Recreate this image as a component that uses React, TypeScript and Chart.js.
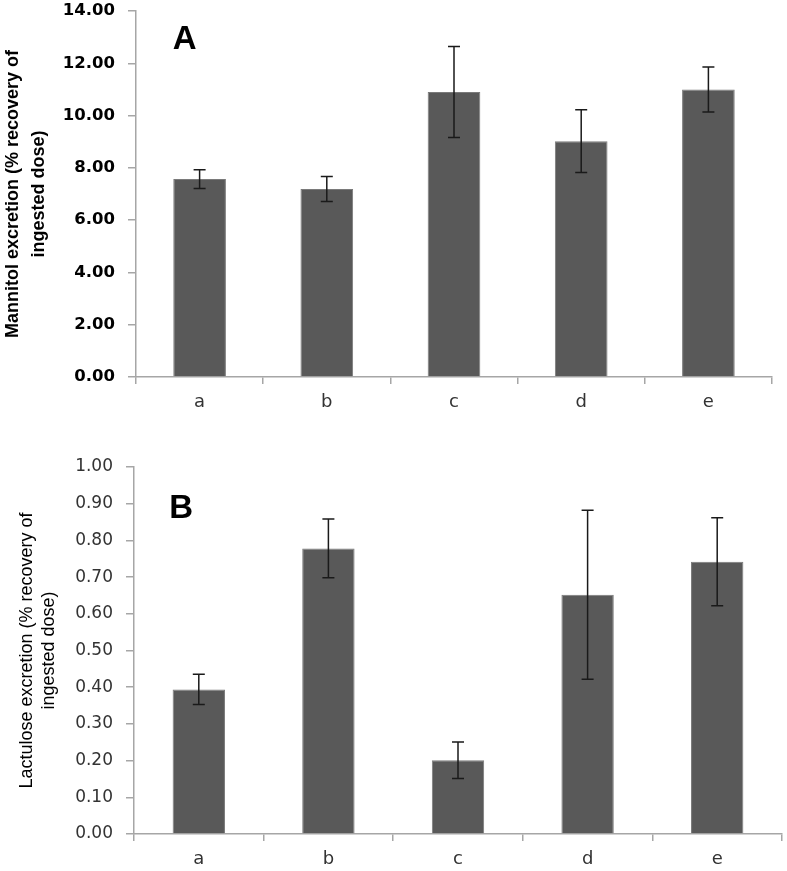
import React, { useEffect, useRef } from "react";
import { Chart, registerables } from "chart.js";

Chart.register(...registerables);

// ---------- data ----------
const categories = ["a", "b", "c", "d", "e"];

const mannitolMeans = [7.57, 7.19, 10.9, 9.02, 11.0];
const mannitolErrors = [0.36, 0.48, 1.74, 1.2, 0.86];
const mannitolTickMax = 14;
const mannitolTickStep = 2;
const mannitolTitle = ["Mannitol excretion (% recovery of", "ingested dose)"];
const mannitolPanel = "A";

const lactuloseMeans = [0.394, 0.778, 0.201, 0.652, 0.742];
const lactuloseErrors = [0.041, 0.08, 0.05, 0.23, 0.12];
const lactuloseTickMax = 1;
const lactuloseTickStep = 0.1;
const lactuloseTitle = ["Lactulose excretion (% recovery of", "ingested dose)"];
const lactulosePanel = "B";

// ---------- styling ----------
const BAR_FILL = "#595959";
const BAR_EDGE = "#7a7a7a";
const AXIS_GREY = "#a6a6a6";
const ERR_COLOR = "#1a1a1a";

type PanelSpec = {
  width: number;
  height: number;
  means: number[];
  errors: number[];
  max: number;
  step: number;
  title: string[];
  panel: string;
  bold: boolean;
  padTop: number;
  padRight: number;
  yWidth: number;
  xHeight: number;
  barPct: number;
  titleLineHeight: number;
  titlePad: number;
  letterDx: number;
  letterDy: number;
  tickColor: string;
};

function makeChart(canvas: HTMLCanvasElement, s: PanelSpec) {
  const errorBars = {
    id: "errorBars",
    afterDatasetsDraw(chart: any) {
      const ctx = chart.ctx;
      const meta = chart.getDatasetMeta(0);
      const yScale = chart.scales.y;
      ctx.save();
      ctx.strokeStyle = ERR_COLOR;
      ctx.lineWidth = 1.5;
      meta.data.forEach((bar: any, i: number) => {
        const v = s.means[i];
        const e = s.errors[i];
        const yTop = yScale.getPixelForValue(v + e);
        const yBot = yScale.getPixelForValue(v - e);
        const x = bar.x;
        const cap = 6;
        ctx.beginPath();
        ctx.moveTo(x, yTop);
        ctx.lineTo(x, yBot);
        ctx.moveTo(x - cap, yTop);
        ctx.lineTo(x + cap, yTop);
        ctx.moveTo(x - cap, yBot);
        ctx.lineTo(x + cap, yBot);
        ctx.stroke();
      });
      ctx.restore();
    },
  };

  const panelLetter = {
    id: "panelLetter",
    afterDraw(chart: any) {
      const ctx = chart.ctx;
      const a = chart.chartArea;
      ctx.save();
      ctx.fillStyle = "#000";
      ctx.font = "bold 33px 'Liberation Sans', Arial, sans-serif";
      ctx.textAlign = "left";
      ctx.textBaseline = "alphabetic";
      ctx.fillText(s.panel, a.left + s.letterDx, a.top + s.letterDy);
      ctx.restore();
    },
  };

  return new Chart(canvas, {
    type: "bar",
    data: {
      labels: categories,
      datasets: [
        {
          data: s.means,
          backgroundColor: BAR_FILL,
          borderColor: BAR_EDGE,
          borderWidth: 1,
          categoryPercentage: 1,
          barPercentage: s.barPct,
        },
      ],
    },
    options: {
      responsive: false,
      animation: false,
      events: [],
      layout: {
        padding: { top: s.padTop, right: s.padRight, left: 0, bottom: 0 },
      },
      plugins: {
        legend: { display: false },
        tooltip: { enabled: false },
        title: { display: false },
      },
      scales: {
        x: {
          grid: {
            display: true,
            offset: true,
            drawOnChartArea: false,
            drawTicks: true,
            tickLength: 7,
            color: AXIS_GREY,
            lineWidth: 1.5,
          },
          border: { display: true, color: AXIS_GREY, width: 1.5 },
          ticks: {
            color: "#333",
            padding: 8,
            font: { family: "'DejaVu Sans', sans-serif", size: 18 },
          },
          afterFit(scale: any) {
            scale.height = s.xHeight;
            scale.paddingLeft = 0;
            scale.paddingRight = 0;
          },
        },
        y: {
          min: 0,
          max: s.max,
          grid: {
            display: true,
            drawOnChartArea: false,
            drawTicks: true,
            tickLength: 8,
            color: AXIS_GREY,
            lineWidth: 1.5,
          },
          border: { display: true, color: AXIS_GREY, width: 1.5 },
          ticks: {
            stepSize: s.step,
            color: s.tickColor,
            padding: 13,
            font: {
              family: "'DejaVu Sans', sans-serif",
              size: s.bold ? 16.5 : 17,
              weight: s.bold ? "bold" : "normal",
            },
            callback: (v: any) => Number(v).toFixed(2),
          },
          title: {
            display: true,
            text: s.title,
            color: "#000",
            padding: { top: s.titlePad, bottom: 0 },
            font: {
              family: "'Liberation Sans', Arial, sans-serif",
              size: 18,
              weight: s.bold ? "bold" : "normal",
              lineHeight: s.titleLineHeight,
            },
          },
          afterFit(scale: any) {
            scale.width = s.yWidth;
            scale.paddingTop = 0;
            scale.paddingBottom = 0;
          },
        },
      },
    },
    plugins: [errorBars, panelLetter],
  } as any);
}

function Panel({ spec }: { spec: PanelSpec }) {
  const ref = useRef<HTMLCanvasElement | null>(null);
  useEffect(() => {
    if (!ref.current) return;
    const chart = makeChart(ref.current, spec);
    return () => chart.destroy();
  }, [spec]);
  return (
    <canvas
      ref={ref}
      width={spec.width}
      height={spec.height}
      style={{ display: "block", width: spec.width, height: spec.height }}
    />
  );
}

const specA: PanelSpec = {
  width: 787,
  height: 425,
  means: mannitolMeans,
  errors: mannitolErrors,
  max: mannitolTickMax,
  step: mannitolTickStep,
  title: mannitolTitle,
  panel: mannitolPanel,
  bold: true,
  padTop: 11,
  padRight: 15,
  yWidth: 136,
  xHeight: 48,
  barPct: 0.414,
  titleLineHeight: 26 / 18,
  titlePad: 0,
  letterDx: 36.7,
  letterDy: 38,
  tickColor: "#000",
};

const specB: PanelSpec = {
  width: 787,
  height: 446,
  means: lactuloseMeans,
  errors: lactuloseErrors,
  max: lactuloseTickMax,
  step: lactuloseTickStep,
  title: lactuloseTitle,
  panel: lactulosePanel,
  bold: false,
  padTop: 42,
  padRight: 5,
  yWidth: 134,
  xHeight: 37,
  barPct: 0.404,
  titleLineHeight: 22 / 18,
  titlePad: 16,
  letterDx: 35.3,
  letterDy: 51.4,
  tickColor: "#333",
};

export default function App() {
  return (
    <div
      style={{
        position: "absolute",
        left: 0,
        top: 0,
        width: 787,
        height: 871,
        background: "#fff",
      }}
    >
      <Panel spec={specA} />
      <Panel spec={specB} />
    </div>
  );
}
